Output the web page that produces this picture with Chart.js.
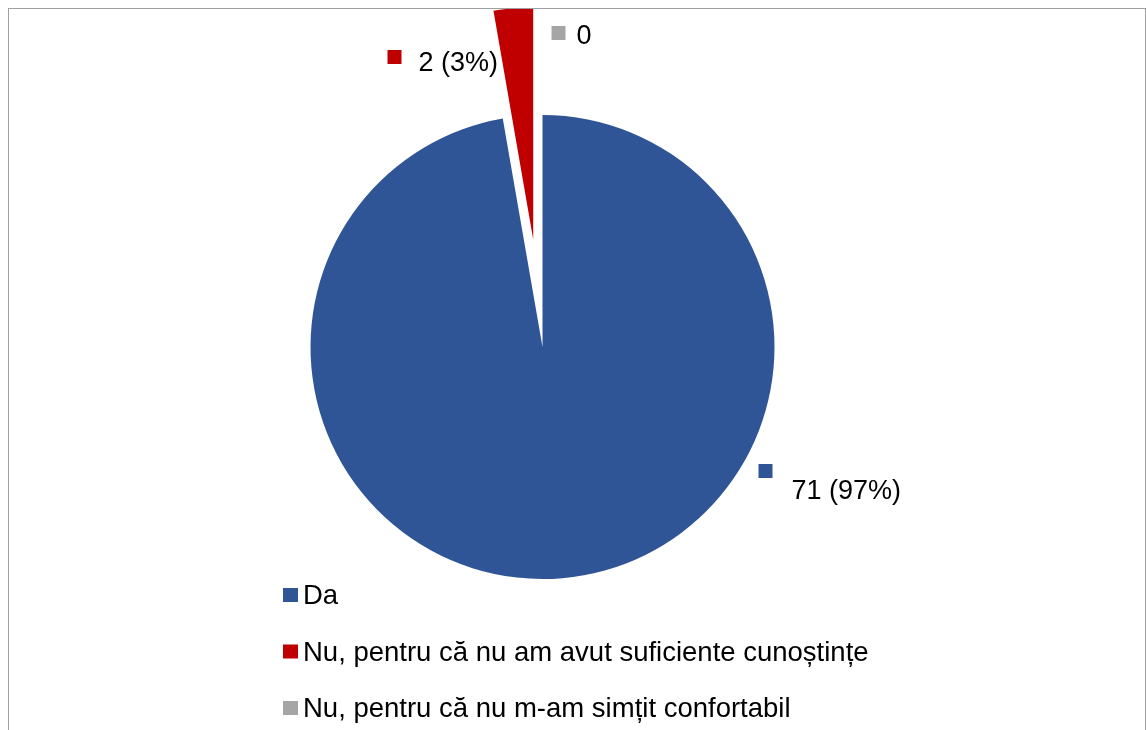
<!DOCTYPE html>
<html lang="ro">
<head>
    <meta charset="UTF-8">
    <title>Da / Nu</title>
    <script src="https://cdn.jsdelivr.net/npm/chart.js"></script>
    <style>
        html, body {
            margin: 0;
            padding: 0;
            background: #ffffff;
            overflow: hidden;
        }

        .frame {
            position: absolute;
            left: 8px;
            top: 8px;
            width: 1136px;
            height: 740px;
            border: 1px solid #a0a0a0;
        }

        canvas {
            display: block;
        }
    </style>
</head>
<body>

    <div class="frame">
        <canvas id="pieChart" width="1136" height="740"></canvas>
    </div>

    <script>
        // Answers and counts
        let labels = ["Da", "Nu, pentru că nu am avut suficiente cunoștințe", "Nu, pentru că nu m-am simțit confortabil"];
        let counts = [71, 2, 0];
        let colors = ["#2F5597", "#C00000", "#A5A5A5"];

        let total = counts.reduce((a, b) => a + b, 0);

        // Text shown next to each slice
        let valueTexts = counts.map(c => c === 0 ? "0" : c + " (" + Math.round(c / total * 100) + "%)");

        // how far each slice is pulled out of the pie (px)
        let explode = [0, 108, 0];

        // where each value label sits: key square relative to the pie centre, text relative to the square
        let labelSpots = [
            { dx: 216, dy: 117, tx: 33, ty: 35 },
            { dx: -155, dy: -297, tx: 31, ty: 21 },
            { dx: 9, dy: -321, tx: 25, ty: 18 }
        ];

        // move exploded slices along their middle angle, keeping the same radius
        const explodeSlices = {
            id: "explodeSlices",
            afterDatasetUpdate(chart, args) {
                const arcs = chart.getDatasetMeta(args.index).data;
                arcs.forEach((arc, i) => {
                    const d = explode[i] || 0;
                    if (!d) return;
                    const mid = (arc.startAngle + arc.endAngle) / 2;
                    arc.x += Math.cos(mid) * d;
                    arc.y += Math.sin(mid) * d;
                });
            }
        };

        // value labels with a small coloured key
        const valueLabels = {
            id: "valueLabels",
            afterDatasetsDraw(chart) {
                const ctx = chart.ctx;
                const cx = (chart.chartArea.left + chart.chartArea.right) / 2;
                const cy = (chart.chartArea.top + chart.chartArea.bottom) / 2;
                ctx.save();
                ctx.font = "27px 'Liberation Sans', Arial, sans-serif";
                ctx.textBaseline = "alphabetic";
                valueTexts.forEach((txt, i) => {
                    const s = labelSpots[i];
                    const x = cx + s.dx;
                    const y = cy + s.dy;
                    ctx.fillStyle = colors[i];
                    ctx.fillRect(x, y, 14, 14);
                    ctx.fillStyle = "#000000";
                    ctx.fillText(txt, x + s.tx, y + s.ty);
                });
                ctx.restore();
            }
        };

        // legend stacked under the pie
        const stackedLegend = {
            id: "stackedLegend",
            afterDraw(chart) {
                const ctx = chart.ctx;
                ctx.save();
                ctx.font = "27.5px 'Liberation Sans', Arial, sans-serif";
                ctx.textBaseline = "alphabetic";
                labels.forEach((name, i) => {
                    const y = 579 + i * 56.5;
                    ctx.fillStyle = colors[i];
                    ctx.fillRect(274, y, 15, 14);
                    ctx.fillStyle = "#000000";
                    ctx.fillText(name, 294, y + 16);
                });
                ctx.restore();
            }
        };

        let pieCtx = document.getElementById("pieChart").getContext("2d");
        new Chart(pieCtx, {
            type: "pie",
            data: {
                labels: labels,
                datasets: [{
                    data: counts,
                    backgroundColor: colors,
                    borderWidth: 0,
                    clip: false
                }]
            },
            options: {
                responsive: false,
                animation: false,
                radius: 232,
                layout: {
                    padding: { left: 293.5, right: 362.5, top: 98, bottom: 162 }
                },
                plugins: {
                    legend: { display: false },
                    tooltip: { enabled: false }
                }
            },
            plugins: [explodeSlices, valueLabels, stackedLegend]
        });
    </script>

</body>
</html>
